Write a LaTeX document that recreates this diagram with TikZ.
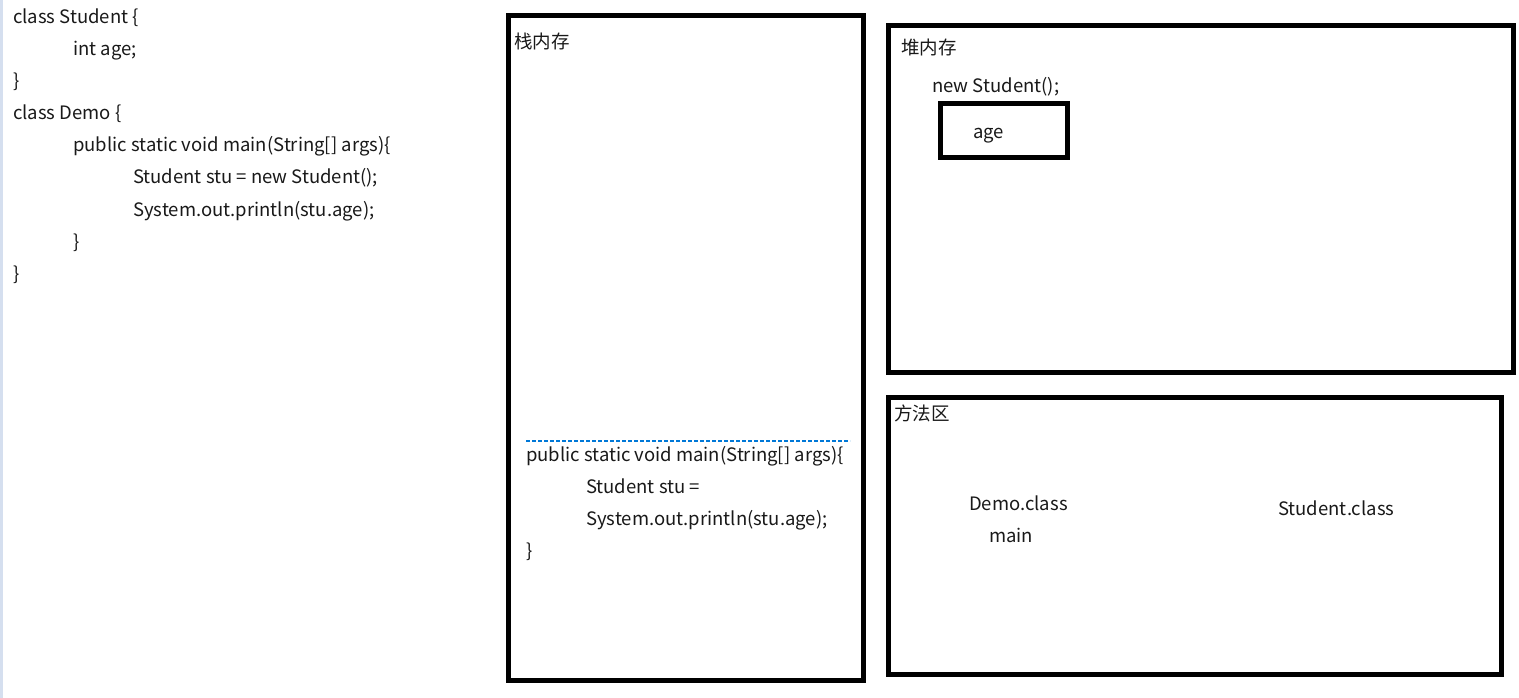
\documentclass[tikz,border=0pt]{standalone}
\usepackage{fontspec}
\setmainfont{Noto Sans CJK SC}
\begin{document}
\begin{tikzpicture}[x=1pt,y=-1pt,
  box/.style={draw=black,line width=5pt,rectangle,inner sep=0pt,outer sep=0pt,anchor=north west},
  txt/.style={anchor=base west,inner sep=0pt,font=\fontsize{18.5}{22}\selectfont,text=black!90}]
\useasboundingbox (0,0) rectangle (1519,698);
\fill[white] (0,0) rectangle (1519,698);
\fill[fill={rgb,255:red,213;green,223;blue,239}] (0,0) rectangle (3,698);
% left code
\node[txt] (c1) at (13,24) {class Student \{};
\node[txt] (c2) at (73,56) {int age;};
\node[txt] (c3) at (13,88) {\}};
\node[txt] (c4) at (13,120) {class Demo \{};
\node[txt] (c5) at (73,152) {public static void main(String[] args)\{};
\node[txt] (c6) at (133,184) {Student stu = new Student();};
\node[txt] (c7) at (133,216) {System.out.println(stu.age);};
\node[txt] (c8) at (73,248) {\}};
\node[txt] (c9) at (13,280) {\}};
% boxes
\node[box,minimum width=355pt,minimum height=664.7pt] (stack) at (508.5,15.8) {};
\node[box,minimum width=625pt,minimum height=347pt] (heap) at (888.5,25.5) {};
\node[box,minimum width=127pt,minimum height=54pt] (agebox) at (940.5,103.5) {};
\node[box,minimum width=613pt,minimum height=277pt] (method) at (888.5,397.5) {};
% stack contents
\node[txt] (stacklbl) at (514,49) {栈内存};
\coordinate (dl) at (526,441);
\coordinate (dr) at (850,441);
\draw[line width=1.3pt,color={rgb,255:red,0;green,120;blue,215},dash pattern=on 4pt off 2pt] (dl) -- (dr);
\node[txt] (s1) at (526,461) {public static void main(String[] args)\{};
\node[txt] (s2) at (586,493) {Student stu =};
\node[txt] (s3) at (586,525) {System.out.println(stu.age);};
\node[txt] (s4) at (526,557) {\}};
% heap contents
\node[txt] (heaplbl) at (901,55) {堆内存};
\node[txt] (newstu) at (932,93) {new Student();};
\node[txt] (age) at (973,139) {age};
% method area
\node[txt] (methodlbl) at (894,420) {方法区};
\node[txt] (democls) at (969,510) {Demo.class};
\node[txt] (mainm) at (989,542) {main};
\node[txt] (stucls) at (1278,515) {Student.class};
\end{tikzpicture}
\end{document}
